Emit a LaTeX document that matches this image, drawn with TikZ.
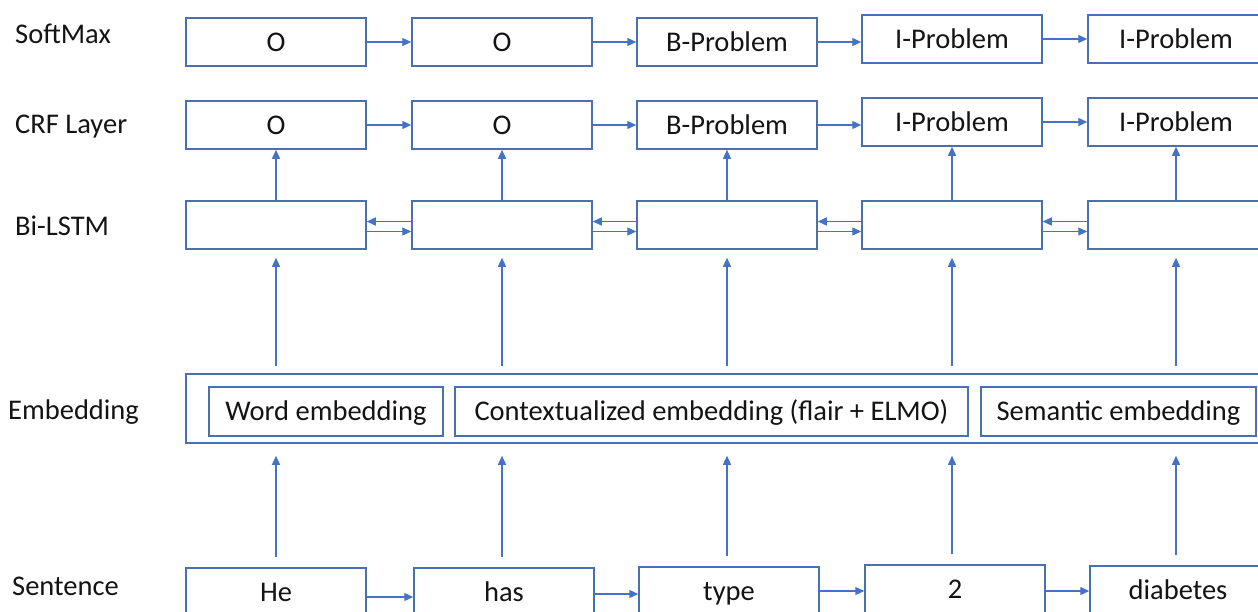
\documentclass[tikz,border=0pt]{standalone}
\usepackage{fontspec}
\setmainfont{Carlito}
\usetikzlibrary{arrows.meta,calc}
\definecolor{boxblue}{RGB}{74,112,176}
\definecolor{arrowblue}{RGB}{68,114,196}
\definecolor{ink}{RGB}{20,20,20}
\begin{document}
\begin{tikzpicture}[x=1pt,y=-1pt,
  cell/.style={draw=boxblue, line width=1.5pt, fill=white, inner sep=0pt,
    text height=18.3pt, text depth=0pt, minimum height=48pt, minimum width=180pt,
    text=ink, font=\fontsize{28.5}{34}\selectfont},
  lastcell/.style={cell, minimum width=176pt},
  arr/.style={draw=arrowblue, line width=1.3pt, -{Triangle[length=9pt,width=8pt]}},
  lbl/.style={anchor=base west, inner sep=0pt, text=ink, font=\fontsize{28.5}{34}\selectfont}]
\useasboundingbox (0,0) rectangle (1258,611);
\clip (0,0) rectangle (1258,611);

% row labels
\node[lbl] (lsm) at (15,43) {SoftMax};
\node[lbl] (lcr) at (15,133) {CRF Layer};
\node[lbl] (lbl) at (15,235) {Bi-LSTM};
\node[lbl] (lem) at (8,419) {Embedding};
\node[lbl] (lse) at (12,595) {Sentence};

% SoftMax row
\node[cell] (sm1) at (276,42) {O};
\node[cell] (sm2) at (502,42) {O};
\node[cell] (sm3) at (727,42) {B-Problem};
\node[cell] (sm4) at (952,39) {I-Problem};
\node[lastcell] (sm5) at (1176,39) {I-Problem};

% CRF row
\node[cell] (cr1) at (276,125) {O};
\node[cell] (cr2) at (502,125) {O};
\node[cell] (cr3) at (727,125) {B-Problem};
\node[cell] (cr4) at (952,122) {I-Problem};
\node[lastcell] (cr5) at (1176,122) {I-Problem};

% Bi-LSTM row
\node[cell] (bl1) at (276,225) {};
\node[cell] (bl2) at (502,225) {};
\node[cell] (bl3) at (727,225) {};
\node[cell] (bl4) at (952,225) {};
\node[lastcell] (bl5) at (1176,225) {};

% embedding block
\node[cell, minimum width=1076pt, minimum height=69pt] (emb) at (724,408.5) {};
\node[cell, minimum width=234pt, minimum height=49pt] (we1) at (326,411.5) {Word embedding};
\node[cell, minimum width=513pt, minimum height=49pt] (we2) at (711.5,411.5) {Contextualized embedding (flair + ELMO)};
\node[cell, minimum width=275pt, minimum height=49pt] (we3) at (1118.5,411.5) {Semantic embedding};

% sentence row
\node[cell] (se1) at (276,592) {He};
\node[cell] (se2) at (504,592) {has};
\node[cell] (se3) at (729,591) {type};
\node[cell] (se4) at (955,589) {2};
\node[lastcell] (se5) at (1178,590) {diabetes};

% horizontal connectors
\foreach \i/\j in {1/2,2/3,3/4,4/5} {
  \draw[arr] (sm\i.east) -- (sm\i.east -| sm\j.west);
  \draw[arr] (cr\i.east) -- (cr\i.east -| cr\j.west);
  \draw[arr] ($(bl\j.west)+(0,-3.5)$) -- ($(bl\i.east)+(0,-3.5)$);
  \draw[arr] ($(bl\i.east)+(0,6.5)$) -- ($(bl\j.west)+(0,6.5)$);
}
\foreach \i/\j/\dy in {1/2/5,2/3/2,3/4/0,4/5/2} {
  \draw[arr] ($(se\i.east)+(0,\dy)$) -- ($(se\i.east -| se\j.west)+(0,\dy)$);
}

% vertical connectors
\foreach \i in {1,...,5} {
  \draw[arr] (bl\i.north) -- (cr\i.south);
  \draw[arr] ($(bl\i.south |- emb.north)+(0,-7)$) -- ($(bl\i.south)+(0,8)$);
  \draw[arr] ($(bl\i.south |- se\i.north)+(0,-10)$) -- ($(bl\i.south |- emb.south)+(0,12)$);
}
\end{tikzpicture}
\end{document}
